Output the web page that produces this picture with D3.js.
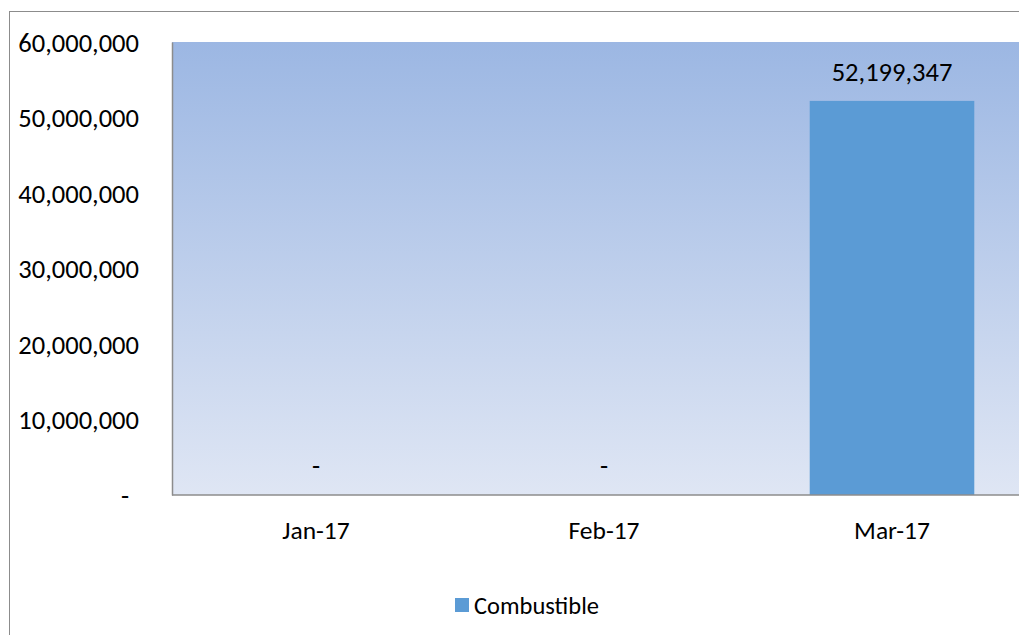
<!DOCTYPE html>
<html>
<head>
<meta charset="utf-8">
<script src="https://cdn.jsdelivr.net/npm/d3@7"></script>
<style>
  body { margin: 0; background: #fff; }
  svg { display: block; font-family: Carlito, "Open Sans", "Noto Sans", sans-serif; }
</style>
</head>
<body>
<svg width="1019" height="635"></svg>
<script>
const months = ["Jan-17", "Feb-17", "Mar-17"];
const combustible = [0, 0, 52199347];
const yTicks = [0, 10000000, 20000000, 30000000, 40000000, 50000000, 60000000];
const seriesName = "Combustible";

const svg = d3.select("svg");

// outer chart border (only top/left visible, rest clipped by window)
svg.append("rect")
  .attr("x", 9.5).attr("y", 11.5)
  .attr("width", 1100).attr("height", 700)
  .attr("fill", "none")
  .attr("stroke", "#8c8c8c")
  .attr("stroke-width", 1);

const plot = { left: 172, top: 42, bottom: 495, band: 288 };

const x = d3.scaleBand()
  .domain(months)
  .range([plot.left, plot.left + plot.band * months.length])
  .paddingInner(0.4286)
  .paddingOuter(0.2143);

const y = d3.scaleLinear()
  .domain([0, 60000000])
  .range([plot.bottom, plot.top]);

const defs = svg.append("defs");
const grad = defs.append("linearGradient")
  .attr("id", "bg").attr("x1", 0).attr("y1", 0).attr("x2", 0).attr("y2", 1);
grad.append("stop").attr("offset", "0%").attr("stop-color", "#9cb7e3");
grad.append("stop").attr("offset", "100%").attr("stop-color", "#dfe6f4");

svg.append("rect")
  .attr("x", plot.left).attr("y", plot.top)
  .attr("width", 1019 - plot.left).attr("height", plot.bottom - plot.top)
  .attr("fill", "url(#bg)");

const fmt = d3.format(",");

svg.append("g")
  .selectAll("rect")
  .data(combustible)
  .join("rect")
  .attr("x", (d, i) => x(months[i]))
  .attr("y", d => y(d))
  .attr("width", x.bandwidth())
  .attr("height", d => y(0) - y(d))
  .attr("fill", "#5b9bd5");

svg.append("g")
  .selectAll("text")
  .data(combustible)
  .join("text")
  .attr("x", (d, i) => x(months[i]) + x.bandwidth() / 2)
  .attr("y", d => y(d) - 20)
  .attr("text-anchor", "middle")
  .attr("font-size", 26.5)
  .attr("fill", "#000")
  .text(d => d === 0 ? "-" : fmt(d));

// y axis
const yAxis = svg.append("g")
  .attr("transform", `translate(${plot.left},0)`)
  .call(d3.axisLeft(y).tickValues(yTicks).tickSize(0).tickPadding(33)
    .tickFormat(d => d === 0 ? "-" : fmt(d)));
yAxis.attr("font-family", null).attr("font-size", null);
yAxis.select(".domain").attr("stroke", "#8c8c8c").attr("stroke-width", 1.5);
yAxis.selectAll("text").attr("font-size", 26.5).attr("fill", "#000")
  .attr("dy", "0.35em")
  .attr("dx", d => d === 0 ? -10 : 0);

// x axis
const xAxis = svg.append("g")
  .attr("transform", `translate(0,${plot.bottom})`)
  .call(d3.axisBottom(x).tickSize(0).tickPadding(44));
xAxis.attr("font-family", null).attr("font-size", null);
xAxis.select(".domain").attr("stroke", "#8c8c8c").attr("stroke-width", 1.5)
  .attr("d", `M${plot.left},0H1019`);
xAxis.selectAll("text").attr("font-size", 25.5).attr("fill", "#000")
  .attr("dy", 0);

// legend
const legend = svg.append("g").attr("transform", "translate(455,598)");
legend.append("rect").attr("width", 14).attr("height", 14).attr("fill", "#5b9bd5");
legend.append("text")
  .attr("x", 19).attr("y", 7).attr("dy", "0.35em")
  .attr("font-size", 24.5).attr("fill", "#000")
  .text(seriesName);
</script>
</body>
</html>
